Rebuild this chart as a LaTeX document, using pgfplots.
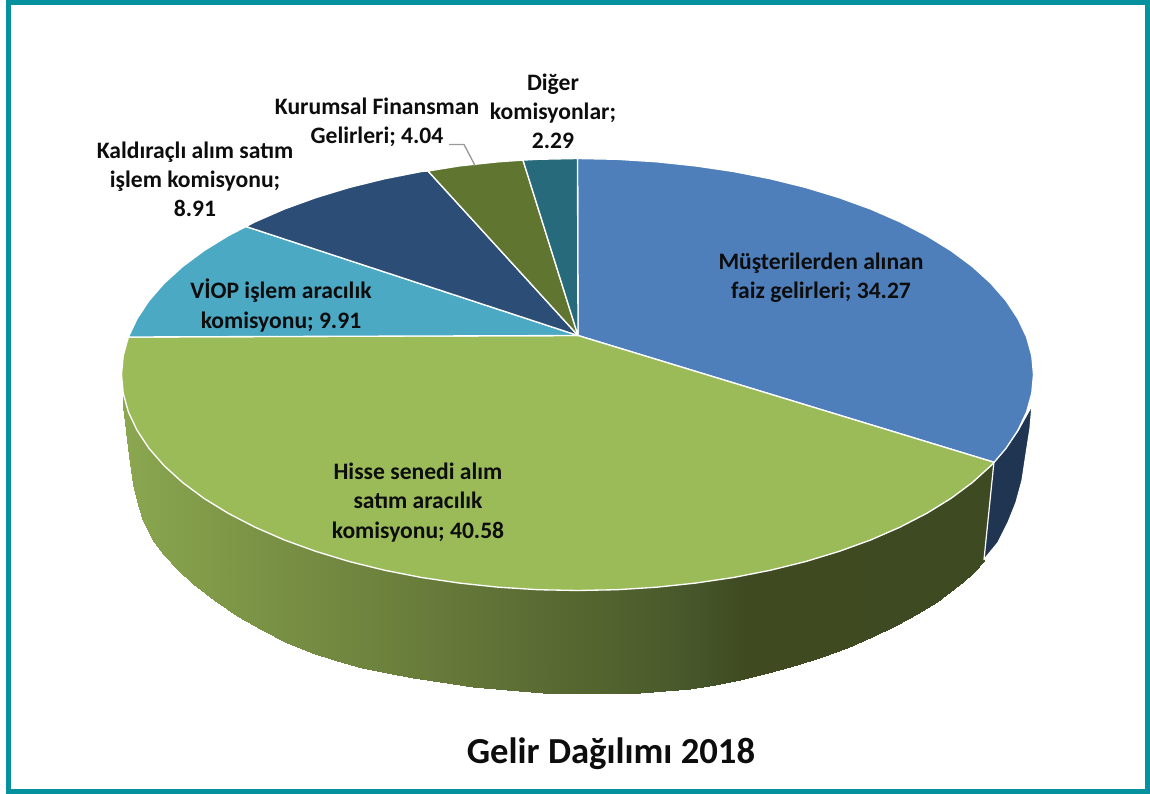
\documentclass[border=0pt]{standalone}
\usepackage{pgfplots}
\pgfplotsset{compat=1.18}
\usepackage{fontspec}
\setmainfont{Carlito}[BoldFont={Carlito Bold}]
\definecolor{cframe}{HTML}{05919D}
\definecolor{cblue}{HTML}{4E7FBB}
\definecolor{cgreen}{HTML}{9BBB59}
\definecolor{cteal}{HTML}{4BA9C4}
\definecolor{cnavy}{HTML}{2C4D75}
\definecolor{colive}{HTML}{5F7530}
\definecolor{cdteal}{HTML}{276A7C}
\definecolor{cdblue}{HTML}{1F3552}
\definecolor{ctext}{HTML}{0D0D0D}
\newcommand{\lab}{\fontsize{17.7}{21.9}\selectfont\bfseries}
\tikzset{lbl/.style={align=center, text=ctext, font=\lab, inner sep=0pt}}
\begin{document}
\begin{tikzpicture}
\begin{axis}[
  at={(0,0)}, anchor=south west,
  scale only axis, width=862.5pt, height=594.75pt,
  xmin=0, xmax=1150, ymin=0, ymax=793, y dir=reverse,
  hide axis, clip=false,
  colormap={sidegreen}{
    rgb255(0pt)=(139,167,80);
    rgb255(120pt)=(124,149,70);
    rgb255(317pt)=(103,122,58);
    rgb255(457pt)=(85,102,48);
    rgb255(517pt)=(78,95,45);
    rgb255(577pt)=(70,85,42);
    rgb255(620pt)=(63,74,33);
    rgb255(870pt)=(62,74,33)},
  point meta min=123, point meta max=993
]
% frame
\addplot[draw=cframe, line width=3.75pt, line join=miter] coordinates
  {(8.5,2) (1147.5,2) (1147.5,790.5) (8.5,790.5)} --cycle;
% side of the Hisse senedi slice
\addplot[surf, shader=interp, mesh/ordering=x varies, mesh/cols=42, point meta=x] table[x=x,y=y] {
x y
123 393
126 403
129 411
133 419
138 427
143 436
152 447
163 459
178 472
193 485
214 498
237 512
262 523
287 535
312 543
337 552
362 558
387 564
413 569
440 574
473 577
507 581
543 582
580 584
610 583
640 582
665 579
690 577
715 573
740 570
768 563
797 557
822 549
847 542
872 532
897 522
917 511
937 501
950 492
963 484
974 471
993 458
123 405
126 430
129 455
133 483
138 504
143 520
152 538
163 553
178 569
193 583
214 599
237 615
262 629
287 642
312 652
337 660
362 667
387 672
413 677
440 681
473 686
507 689
543 692
580 693
610 693
640 692
665 690
690 688
715 684
740 679
768 672
797 664
822 656
847 647
872 636
897 624
917 613
937 601
950 591
963 581
974 571
984 560
};
% side of the Müşteri slice
\addplot[fill=cdblue, draw=white, line width=0.9pt, line join=round] coordinates {
(994,461) (1006,447) (1018,430) (1032,405) (1030,428) (1027,447) (1022,480) (1016,502) (1008,522) (998,542) (984,559)
} --cycle;
% top: Müşterilerden alınan faiz gelirleri 34.27
\addplot[fill=cblue, draw=white, line width=1pt, line join=round] coordinates {
(578,335) (577.5,158) (617.3,158.8) (656.7,161.3) (695.5,165.4) (733.5,171) (770.2,178.2)
(805.5,186.9) (839.1,197.1) (870.6,208.5) (899.9,221.3) (926.8,235.2) (951,250.1) (972.4,266)
(990.8,282.7) (1006,300.1) (1017.9,318.1) (1026.6,336.5) (1031.8,355.2) (1033.5,374)
(1031.8,392.8) (1026.6,411.5) (1017.9,429.9) (1006,447.9) (994.1,461.8)
} --cycle;
% top: Hisse senedi 40.58
\addplot[fill=cgreen, draw=white, line width=1pt, line join=round] coordinates {
(578,335) (994.1,461.8) (990.8,465.3) (972.4,482) (951,497.9) (926.8,512.8) (899.9,526.7)
(870.6,539.5) (839.1,550.9) (805.5,561.1) (770.2,569.8) (733.5,577) (695.5,582.6) (656.7,586.7)
(617.3,589.2) (577.5,590) (537.7,589.2) (498.3,586.7) (459.5,582.6) (421.5,577) (384.8,569.8)
(349.5,561.1) (315.9,550.9) (284.4,539.5) (255.1,526.7) (228.2,512.8) (204,497.9) (182.6,482)
(164.2,465.3) (149,447.9) (137.1,429.9) (128.4,411.5) (123.2,392.8) (121.5,374) (123.2,355.2)
(128.4,336.5)
} --cycle;
% top: VIOP 9.91
\addplot[fill=cteal, draw=white, line width=1pt, line join=round] coordinates {
(578,335) (128.4,336.5) (137.1,318.1) (149,300.1) (164.2,282.7) (182.6,266) (204,250.1)
(228.2,235.2) (246,226)
} --cycle;
% top: Kaldıraçlı 8.91
\addplot[fill=cnavy, draw=white, line width=1pt, line join=round] coordinates {
(578,335) (246,226) (255.1,221.3) (284.4,208.5) (315.9,197.1) (349.5,186.9) (384.8,178.2)
(421.5,171) (428,170.5)
} --cycle;
% top: Kurumsal Finansman 4.04
\addplot[fill=colive, draw=white, line width=1pt, line join=round] coordinates {
(578,335) (428,170.5) (459.5,165.4) (498.3,161.3) (523,159.6)
} --cycle;
% top: Diğer komisyonlar 2.29
\addplot[fill=cdteal, draw=white, line width=1pt, line join=round] coordinates {
(578,335) (523,159.6) (537.7,158.8) (577.5,158)
} --cycle;
% leader
\addplot[draw=black!40, line width=1pt] coordinates {(449,144) (464,144) (475,165)};
% labels
\node[lbl] at (axis cs:821,277) {Müşterilerden alınan\\faiz gelirleri; 34.27};
\node[lbl] at (axis cs:418,502) {Hisse senedi alım\\satım aracılık\\komisyonu; 40.58};
\node[lbl] at (axis cs:281,305) {VİOP işlem aracılık\\komisyonu; 9.91};
\node[lbl] at (axis cs:195,179) {Kaldıraçlı alım satım\\işlem komisyonu;\\8.91};
\node[lbl] at (axis cs:377,122) {Kurumsal Finansman\\Gelirleri; 4.04};
\node[lbl] at (axis cs:553,111) {Diğer\\komisyonlar;\\2.29};
\node[align=center, text=ctext, font=\fontsize{27.5}{33}\selectfont\bfseries] at (axis cs:611,753) {Gelir Dağılımı 2018};
\end{axis}
\useasboundingbox (0,0) rectangle (862.5pt,594.75pt);
\end{tikzpicture}
\end{document}
